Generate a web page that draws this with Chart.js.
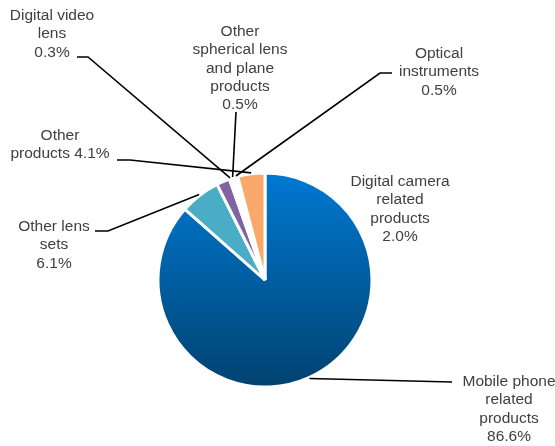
<!DOCTYPE html>
<html>
<head>
<meta charset="utf-8">
<script src="https://cdn.jsdelivr.net/npm/chart.js@4/dist/chart.umd.min.js"></script>
<style>
  html, body { margin: 0; padding: 0; background: #ffffff; }
  #wrap { width: 555px; height: 446px; position: relative; }
</style>
</head>
<body>
<div id="wrap"><canvas id="c"></canvas></div>
<script>
// ---- data (clockwise from 12 o'clock) ----
const categories = [
  "Mobile phone related products",
  "Other lens sets",
  "Digital camera related products",
  "Digital video lens",
  "Other spherical lens and plane products",
  "Optical instruments",
  "Other products"
];
const shares = [86.6, 6.1, 2.0, 0.3, 0.5, 0.5, 4.1];
// label text lines (percentages are appended from shares)
const labelText = [
  ["Mobile phone", "related", "products"],
  ["Other lens", "sets"],
  ["Digital camera", "related", "products"],
  ["Digital video", "lens"],
  ["Other", "spherical lens", "and plane", "products"],
  ["Optical", "instruments"],
  ["Other", "products"]
];
const percentOnSameLine = [false, false, false, false, false, false, true];

// ---- styling / layout ----
const sliceColors = [null, "#4BACC6", "#8064A2", "#FFFFFF", "#FFFFFF", "#FFFFFF", "#F9A86B"];
const labelLayout = [
  { x: 509, y: 382, line: [[452, 382]] },
  { x: 54,  y: 227, line: [[95, 231], [108, 231]] },
  { x: 400, y: 182, line: null },
  { x: 52,  y: 16,  line: [[77, 57], [88, 57]] },
  { x: 240, y: 32,  line: [[236, 112]] },
  { x: 439, y: 54,  line: [[392, 73], [380, 73]] },
  { x: 60,  y: 136, line: [[117, 160], [130, 160]] }
];

function fmt(v) { return v.toFixed(1) + "%"; }

const labelPlugin = {
  id: "pieLabels",
  afterDatasetsDraw(chart) {
    const ctx = chart.ctx;
    const meta = chart.getDatasetMeta(0);
    ctx.save();
    // leader lines
    ctx.strokeStyle = "#000000";
    ctx.lineWidth = 1.6;
    meta.data.forEach((arc, i) => {
      const lay = labelLayout[i];
      if (!lay || !lay.line) return;
      const p = arc.getProps(["x", "y", "startAngle", "endAngle", "outerRadius"], true);
      const mid = (p.startAngle + p.endAngle) / 2;
      const ex = p.x + Math.cos(mid) * (p.outerRadius + 1);
      const ey = p.y + Math.sin(mid) * (p.outerRadius + 1);
      ctx.beginPath();
      ctx.moveTo(lay.line[0][0], lay.line[0][1]);
      for (let k = 1; k < lay.line.length; k++) ctx.lineTo(lay.line[k][0], lay.line[k][1]);
      ctx.lineTo(ex, ey);
      ctx.stroke();
    });
    // texts
    ctx.fillStyle = "#404040";
    ctx.font = "15.5px 'Liberation Sans', Arial, sans-serif";
    ctx.textAlign = "center";
    ctx.textBaseline = "middle";
    const lh = 18.2;
    labelText.forEach((lines, i) => {
      const lay = labelLayout[i];
      const all = lines.slice();
      if (percentOnSameLine[i]) all[all.length - 1] = all[all.length - 1] + " " + fmt(shares[i]);
      else all.push(fmt(shares[i]));
      all.forEach((t, k) => ctx.fillText(t, lay.x, lay.y + k * lh));
    });
    ctx.restore();
  }
};

const ctx = document.getElementById("c").getContext("2d");
new Chart(ctx, {
  type: "pie",
  data: {
    labels: categories,
    datasets: [{
      data: shares,
      backgroundColor: (c) => {
        const i = c.dataIndex;
        if (i === 0) {
          const area = c.chart.chartArea;
          if (!area) return "#0070C0";
          const g = c.chart.ctx.createLinearGradient(0, area.top, 0, area.bottom);
          g.addColorStop(0, "#0079D2");
          g.addColorStop(1, "#00426F");
          return g;
        }
        return sliceColors[i];
      },
      borderColor: "#FFFFFF",
      borderWidth: 3,
      hoverOffset: 0,
      offset: 0
    }]
  },
  options: {
    responsive: true,
    maintainAspectRatio: false,
    animation: false,
    rotation: 0,
    layout: { padding: { left: 156.5, right: 181.5, top: 171.5, bottom: 57.5 } },
    plugins: {
      legend: { display: false },
      tooltip: { enabled: false },
      title: { display: false }
    },
    events: []
  },
  plugins: [labelPlugin]
});
</script>
</body>
</html>
